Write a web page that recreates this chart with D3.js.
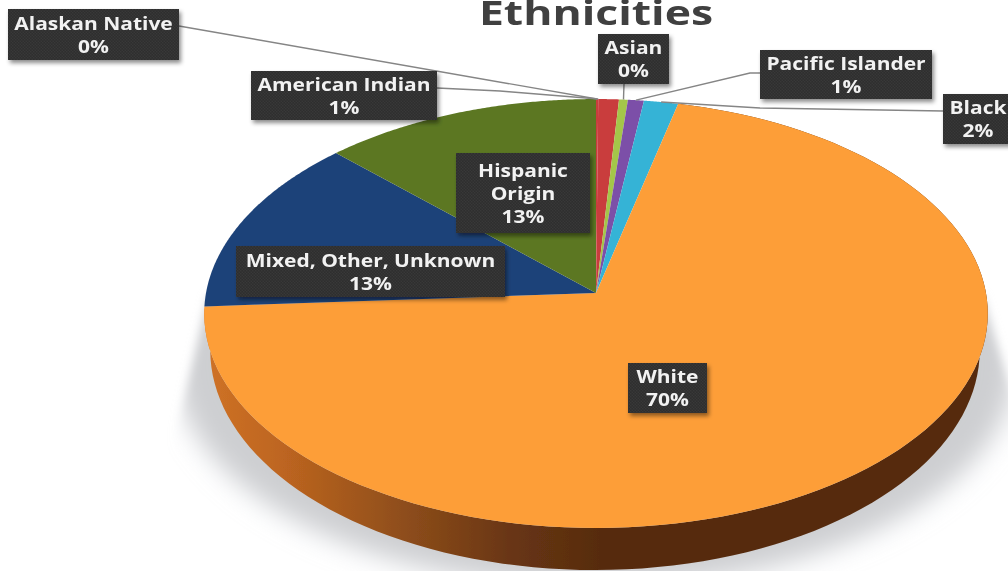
<!DOCTYPE html>
<html><head><meta charset="utf-8">
<script src="https://cdn.jsdelivr.net/npm/d3@7/dist/d3.min.js"></script>
<style>html,body{margin:0;padding:0;background:#fff;overflow:hidden}svg{display:block}</style>
</head><body><svg id="c" width="1008" height="571"></svg>
<script>
// ---- data ----
const categories = ["Alaskan Native","American Indian","Asian","Pacific Islander","Black","White","Mixed, Other, Unknown","Hispanic Origin"];
const values = [0.1,0.93,0.4,0.72,1.55,70.3,13.4,12.6];
const percentLabels = ["0%","1%","0%","1%","2%","70%","13%","13%"];
const labelLines = [["Alaskan Native"],["American Indian"],["Asian"],["Pacific Islander"],["Black"],["White"],["Mixed, Other, Unknown"],["Hispanic","Origin"]];
// ---- style / layout ----
const colors = ["#c93d3d","#c93d3d","#a4c64a","#7c50a8","#35b3d6","#fd9e38","#1f4379","#5b7723"];
const boxes = [[8,9,171,51],[251,71,186,49],[598,34,71,50],[760,50,172,49],[943,94,70,50],[628,363,79,50],[236,246,269,51],[456,153,134,80]];
const leaders = [
 {at:0.5,pts:[[179,26]]},
 {at:0,pts:[[437,88],[500,91]]},
 {at:0.5,pts:[[624,84]]},
 {at:0.5,pts:[[760,73],[750,73]]},
 {at:0.5,pts:[[943,111],[760,108]]},
 null,null,null];
const W=1008,H=571,K=0.0956;
const faceP={cx:596,cy:293,A:390,B:212.5}, baseP={cx:595,cy:329,A:383,B:218};
const project=(t,p)=>{const u=Math.sin(t),v=-Math.cos(t),s=1/(1-K*v);return [p.cx+p.A*u*s,p.cy+p.B*v*s];};
const angles=(a,b)=>d3.range(0,121).map(i=>a+(b-a)*i/120);

const svg=d3.select("#c");
const defs=svg.append("defs");
defs.append("filter").attr("id","soft").attr("x","-20%").attr("y","-20%").attr("width","140%").attr("height","140%")
  .append("feGaussianBlur").attr("stdDeviation",12);
defs.append("filter").attr("id","soft2").attr("filterUnits","userSpaceOnUse").attr("x",0).attr("y",0).attr("width",W).attr("height",H)
  .append("feGaussianBlur").attr("stdDeviation",5);
const ds=defs.append("filter").attr("id","drop").attr("x","-10%").attr("y","-10%").attr("width","125%").attr("height","130%");
ds.append("feDropShadow").attr("dx",2).attr("dy",3).attr("stdDeviation",2).attr("flood-color","#000").attr("flood-opacity",0.45);
defs.append("filter").attr("id","ease").attr("x","-5%").attr("y","-5%").attr("width","110%").attr("height","110%")
  .append("feGaussianBlur").attr("stdDeviation",0.55);
const pat=defs.append("pattern").attr("id","dither").attr("width",3).attr("height",3).attr("patternUnits","userSpaceOnUse");
pat.append("rect").attr("width",3).attr("height",3).attr("fill","#2d2d2d");
pat.append("rect").attr("x",0).attr("y",0).attr("width",1.5).attr("height",1.5).attr("fill","#393939");
pat.append("rect").attr("x",1.5).attr("y",1.5).attr("width",1.5).attr("height",1.5).attr("fill","#393939");
const wg=defs.append("linearGradient").attr("id","wall").attr("gradientUnits","userSpaceOnUse").attr("x1",204).attr("x2",600).attr("y1",0).attr("y2",0);
[[0,"#cf7226"],[0.2,"#bd6520"],[0.5,"#8f4e1b"],[0.78,"#683513"],[1,"#572c0f"]].forEach(s=>wg.append("stop").attr("offset",s[0]).attr("stop-color",s[1]));
defs.append("clipPath").attr("id","shClip").append("polygon").attr("points","208,296 983,296 1032,460 1032,585 140,585 174,440");

const root=svg.append("g").attr("filter","url(#ease)");
root.append("rect").attr("width",W).attr("height",H).attr("fill","#fff");

// shadow
root.append("g").attr("filter","url(#soft2)").append("g").attr("clip-path","url(#shClip)").append("ellipse")
  .attr("cx",595).attr("cy",365).attr("rx",420).attr("ry",222).attr("fill","#cdcfd1").attr("filter","url(#soft)");

const pie=d3.pie().sort(null).value(d=>d).startAngle(0).endAngle(2*Math.PI);
const arcs=pie(values);
const line=d3.line();

// side wall of the big slice
const big=arcs[5];
const ang=angles(big.startAngle,big.endAngle);
root.append("path").attr("fill","url(#wall)")
  .attr("d",line(ang.map(t=>project(t,faceP)).concat(ang.slice().reverse().map(t=>project(t,baseP))))+"Z");

// slices
root.selectAll("path.slice").data(arcs).join("path").attr("class","slice")
  .attr("fill",(d,i)=>colors[i])
  .attr("d",d=>line([[faceP.cx,faceP.cy]].concat(angles(d.startAngle,d.endAngle).map(t=>project(t,faceP))))+"Z");

// leaders
leaders.forEach((l,i)=>{ if(!l) return;
  const d=arcs[i], t=d.startAngle+(d.endAngle-d.startAngle)*l.at;
  root.append("path").attr("fill","none").attr("stroke","#858585").attr("stroke-width",1.4)
    .attr("d",line(l.pts.concat([project(t,faceP)])));
});

// title
root.append("text").attr("transform","translate(596,25) scale(1.31,1)").attr("text-anchor","middle")
  .attr("font-family","'Open Sans',sans-serif").attr("font-weight",700).attr("font-size",34)
  .attr("fill","#3f3f3f").text("Ethnicities");

// labels
const STRETCH=1.2;
categories.forEach((c,i)=>{
  const b=boxes[i];
  const g=root.append("g");
  g.append("rect").attr("x",b[0]).attr("y",b[1]).attr("width",b[2]).attr("height",b[3]).attr("fill","url(#dither)").attr("filter","url(#drop)");
  const lines=labelLines[i].concat([percentLabels[i]]);
  const mx=b[0]+b[2]/2, top=b[1]+b[3]/2-(lines.length-1)*11.5+6.5;
  lines.forEach((s,j)=>{
    g.append("text").attr("transform",`translate(${i==4?978:mx},${top+j*23}) scale(${STRETCH},1)`)
     .attr("text-anchor","middle").attr("font-family","'Open Sans',sans-serif").attr("font-weight",700)
     .attr("font-size",17.5).attr("fill","#f2f2f2").text(s);
  });
});
</script></body></html>
